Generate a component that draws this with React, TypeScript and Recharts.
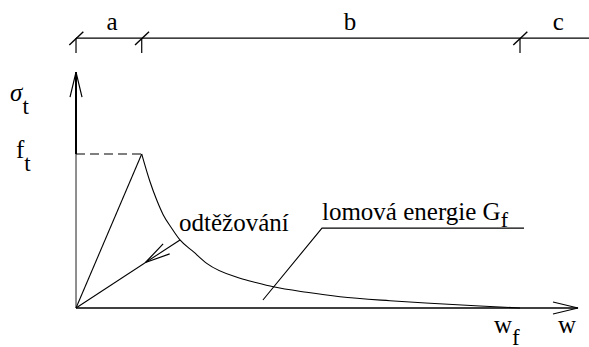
import React from 'react';
import { ComposedChart, Line, XAxis, YAxis, ReferenceLine, ReferenceDot } from 'recharts';

// Cohesive crack law in normalised units: w / w_f horizontally, sigma / f_t vertically.
const peakW = 0.148; // crack opening at which the tensile strength f_t is reached
const peakS = 1;

// Softening branch, from the peak down to w_f
const softeningW = [0.148, 0.1667, 0.1818, 0.1966, 0.2155, 0.2342, 0.2642, 0.2944, 0.3694, 0.407, 0.4444, 0.5196, 0.5946, 0.7072, 0.7973, 0.9099, 1.0];
const softeningS = [1, 0.82, 0.701, 0.604, 0.518, 0.442, 0.366, 0.29, 0.193, 0.164, 0.138, 0.102, 0.073, 0.047, 0.031, 0.013, 0];

// Unloading starts from this point of the softening branch and heads back to the origin
const unloadIndex = 5;
const unloadArrowAt = 0.332;

// Leader line pointing at the area under the curve (fracture energy)
const leaderW = [0.421, 0.554, 1.009];
const leaderS = [0.052, 0.519, 0.519];

// Zones of the dimension line above the diagram
const zoneBounds = [0, peakW, 1];
const zoneLabels = ['a', 'b', 'c'];
const zoneLabelW = [0.081, 0.617, 1.086];

// Texts
const sigmaLabel = ['σ', 't'];
const strengthLabel = ['f', 't'];
const wfLabel = ['w', 'f'];
const wLabel = 'w';
const unloadingLabel = 'odtěžování';
const energyLabel = ['lomová energie G', 'f'];

// Layout of the drawing in the same units
const W_MIN = -0.1712;
const W_MAX = 1.1554;
const S_MIN = -0.2532;
const S_MAX = 2.0;
const AXIS_W_END = 1.1306;
const AXIS_S_END = 1.532;
const DIM_S = 1.753;
const ZONE_LABEL_S = 1.805;

const FONT = 'Liberation Serif';
const INK = '#000';

const softeningData = softeningW.map((w, i) => ({ w, s: softeningS[i] }));
const loadingData = [
  { w: 0, s: 0 },
  { w: peakW, s: peakS },
];
const leaderData = leaderW.map((w, i) => ({ w, s: leaderS[i] }));

// Straight line with an open arrowhead whose tip sits at fraction t of the segment
const arrowLine = (t: number, width: number, color: string = INK) => (p: any) => {
  const { x1, y1, x2, y2 } = p;
  const dx = x2 - x1;
  const dy = y2 - y1;
  const len = Math.hypot(dx, dy) || 1;
  const ux = dx / len;
  const uy = dy / len;
  const tx = x1 + dx * t;
  const ty = y1 + dy * t;
  const L = 25;
  const H = 6;
  const bx = tx - ux * L;
  const by = ty - uy * L;
  const pts = `${bx - uy * H},${by + ux * H} ${tx},${ty} ${bx + uy * H},${by - ux * H}`;
  return (
    <g>
      <line x1={x1} y1={y1} x2={x2} y2={y2} stroke={color} strokeWidth={width} />
      <polyline points={pts} fill="none" stroke={INK} strokeWidth={1.2} />
    </g>
  );
};

// Architectural tick of the dimension line
const dimTick = (p: any) => {
  const { cx, cy } = p;
  return (
    <g>
      <line x1={cx} y1={cy} x2={cx} y2={cy + 15} stroke={INK} strokeWidth={1.2} />
      <line x1={cx - 6.7} y1={cy + 7} x2={cx + 7.3} y2={cy - 6.3} stroke={INK} strokeWidth={1.4} />
    </g>
  );
};

// Text anchored at a point, optionally followed by a subscript
const textMark = (
  main: string,
  sub?: string,
  opts: { anchor?: 'start' | 'middle'; size?: number; subSize?: number; subDy?: number; italic?: boolean } = {}
) => (p: any) => {
  const { cx, cy } = p;
  const { anchor = 'start', size = 25, subSize = 23, subDy = 13, italic = false } = opts;
  const mainX = cx;
  return (
    <g>
      <text
        x={mainX}
        y={cy}
        textAnchor={anchor}
        fontFamily={FONT}
        fontSize={size}
        fontStyle={italic ? 'italic' : undefined}
        fill={INK}
      >
        {main}
        {sub ? (
          <tspan dy={subDy} fontSize={subSize} fontStyle="normal" fontFamily={FONT}>
            {sub}
          </tspan>
        ) : null}
      </text>
    </g>
  );
};

export default function App() {
  const unloadW = softeningW[unloadIndex];
  const unloadS = softeningS[unloadIndex];
  return (
    <div style={{ position: 'absolute', left: 0, top: 0, width: 589, height: 347, background: '#fff' }}>
      <ComposedChart width={589} height={347} margin={{ top: 0, right: 0, bottom: 0, left: 0 }}>
        <XAxis dataKey="w" type="number" domain={[W_MIN, W_MAX]} allowDataOverflow hide />
        <YAxis dataKey="s" type="number" domain={[S_MIN, S_MAX]} allowDataOverflow hide />

        {/* axes */}
        <ReferenceLine
          segment={[{ x: 0, y: 0 }, { x: AXIS_W_END, y: 0 }]}
          shape={arrowLine(1, 1.6)}
        />
        <ReferenceLine
          segment={[{ x: 0, y: 0 }, { x: 0, y: peakS }]}
          stroke="#444"
          strokeWidth={1.2}
        />
        <ReferenceLine
          segment={[{ x: 0, y: peakS }, { x: 0, y: AXIS_S_END }]}
          shape={arrowLine(1, 2)}
        />

        {/* f_t level */}
        <ReferenceLine
          segment={[{ x: 0, y: peakS }, { x: peakW, y: peakS }]}
          stroke={INK}
          strokeWidth={1.2}
          strokeDasharray="9 5"
        />

        {/* loading, softening and leader lines */}
        <Line data={loadingData} dataKey="s" type="linear" stroke={INK} strokeWidth={1.1} dot={false} activeDot={false} isAnimationActive={false} />
        <Line data={softeningData} dataKey="s" type="monotone" stroke={INK} strokeWidth={1.1} dot={false} activeDot={false} isAnimationActive={false} />
        <Line data={leaderData} dataKey="s" type="linear" stroke={INK} strokeWidth={1.1} dot={false} activeDot={false} isAnimationActive={false} />

        {/* unloading branch with its direction arrow */}
        <ReferenceLine
          segment={[{ x: unloadW, y: unloadS }, { x: 0, y: 0 }]}
          shape={arrowLine(unloadArrowAt, 1.1)}
        />

        {/* dimension line with zones */}
        <ReferenceLine
          segment={[{ x: 0, y: DIM_S }, { x: W_MAX, y: DIM_S }]}
          stroke={INK}
          strokeWidth={1.3}
        />
        {zoneBounds.map((w, i) => (
          <ReferenceDot key={`tick-${i}`} x={w} y={DIM_S} r={0} shape={dimTick} />
        ))}
        {zoneLabels.map((t, i) => (
          <ReferenceDot key={`zone-${i}`} x={zoneLabelW[i]} y={ZONE_LABEL_S} r={0} shape={textMark(t, undefined, { anchor: 'middle' })} />
        ))}

        {/* axis and curve labels */}
        <ReferenceDot x={-0.1486} y={1.344} r={0} shape={textMark(sigmaLabel[0], sigmaLabel[1], { italic: true })} />
        <ReferenceDot x={-0.1351} y={0.974} r={0} shape={textMark(strengthLabel[0], strengthLabel[1])} />
        <ReferenceDot x={0.9414} y={-0.1623} r={0} shape={textMark(wfLabel[0], wfLabel[1], { subDy: 12 })} />
        <ReferenceDot x={1.0856} y={-0.1623} r={0} shape={textMark(wLabel)} />
        <ReferenceDot x={0.232} y={0.5} r={0} shape={textMark(unloadingLabel)} />
        <ReferenceDot x={0.554} y={0.571} r={0} shape={textMark(energyLabel[0], energyLabel[1], { subSize: 22, subDy: 7 })} />
      </ComposedChart>
    </div>
  );
}
